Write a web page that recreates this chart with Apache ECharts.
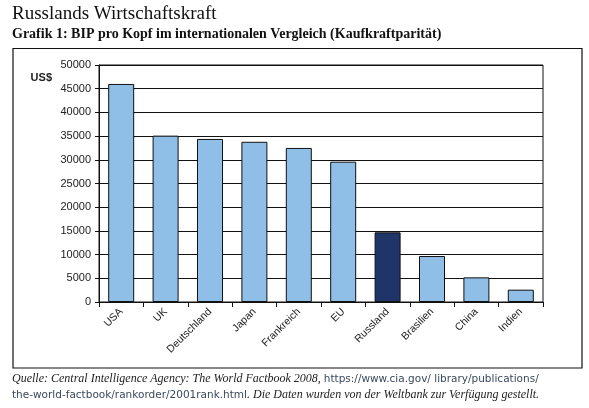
<!DOCTYPE html>
<html><head><meta charset="utf-8">
<script src="https://cdn.jsdelivr.net/npm/echarts@6/dist/echarts.min.js"></script>
<style>html,body{margin:0;padding:0;background:#fff}#c{width:589px;height:408px}</style>
</head><body><div id="c"></div>
<script>
const categories = ['USA','UK','Deutschland','Japan','Frankreich','EU','Russland','Brasilien','China','Indien'];
const values = [46000, 35100, 34400, 33800, 32500, 29600, 14700, 9700, 5200, 2600];
const highlight = 'Russland';
const yTicks = [0,5000,10000,15000,20000,25000,30000,35000,40000,45000,50000];

const chart = echarts.init(document.getElementById('c'));
const serif = '"Liberation Serif", "DejaVu Serif", serif';
const sans = '"Liberation Sans", Arial, sans-serif';
chart.setOption({
  animation: false,
  grid: { left: 99, right: 46, top: 65, bottom: 106, show: true, borderColor: '#111', borderWidth: 1 },
  xAxis: {
    type: 'category', data: categories,
    axisLine: { lineStyle: { color: '#111', width: 1 } },
    axisTick: { show: true, length: 5, lineStyle: { color: '#111' } },
    axisLabel: { rotate: 45, fontFamily: sans, fontSize: 10.5, color: '#222', margin: 8 }
  },
  yAxis: {
    type: 'value', min: yTicks[0], max: yTicks[yTicks.length-1], interval: 5000,
    name: 'US$', nameLocation: 'end', nameGap: 0,
    nameTextStyle: { fontFamily: sans, fontSize: 11, fontWeight: 'bold', color: '#222', align: 'right', padding: [0, 47, -18, 0] },
    axisLine: { show: true, lineStyle: { color: '#111' } },
    axisTick: { show: true, length: 4, lineStyle: { color: '#111' } },
    axisLabel: { fontFamily: sans, fontSize: 11, color: '#222', margin: 8, formatter: v => String(v) },
    splitLine: { lineStyle: { color: '#111', width: 1 } }
  },
  series: [{
    type: 'bar', barWidth: 26,
    data: values.map((v, i) => ({
      value: v,
      itemStyle: { color: categories[i] === highlight ? '#1f3468' : '#8fbfe6', borderColor: '#111', borderWidth: 1 }
    }))
  }],
  graphic: [
    { type: 'text', left: 12, top: 5, style: { text: 'Russlands Wirtschaftskraft', font: '19px ' + serif, fill: '#111' } },
    { type: 'text', left: 12, top: 27, style: { text: 'Grafik 1: BIP pro Kopf im internationalen Vergleich (Kaufkraftparität)', font: 'bold 14px ' + serif, fill: '#111' } },
    { type: 'rect', shape: { x: 13, y: 48.5, width: 569, height: 319.5 }, style: { fill: 'none', stroke: '#111', lineWidth: 1.2 } },
    { type: 'text', left: 12, top: 373, style: {
        text: '{i|Quelle: Central Intelligence Agency: The World Factbook 2008, }{u|https://www.cia.gov/ library/publications/}\n{u|the-world-factbook/rankorder/2001rank.html}{i|. Die Daten wurden von der Weltbank zur Verfügung gestellt.}',
        rich: {
          i: { fontFamily: serif, fontStyle: 'italic', fontSize: 12, fill: '#222', lineHeight: 16 },
          u: { fontFamily: '"DejaVu Sans", sans-serif', fontSize: 10.5, fill: '#3a4a5a', lineHeight: 16 }
        }
    } }
  ]
});
</script></body></html>
